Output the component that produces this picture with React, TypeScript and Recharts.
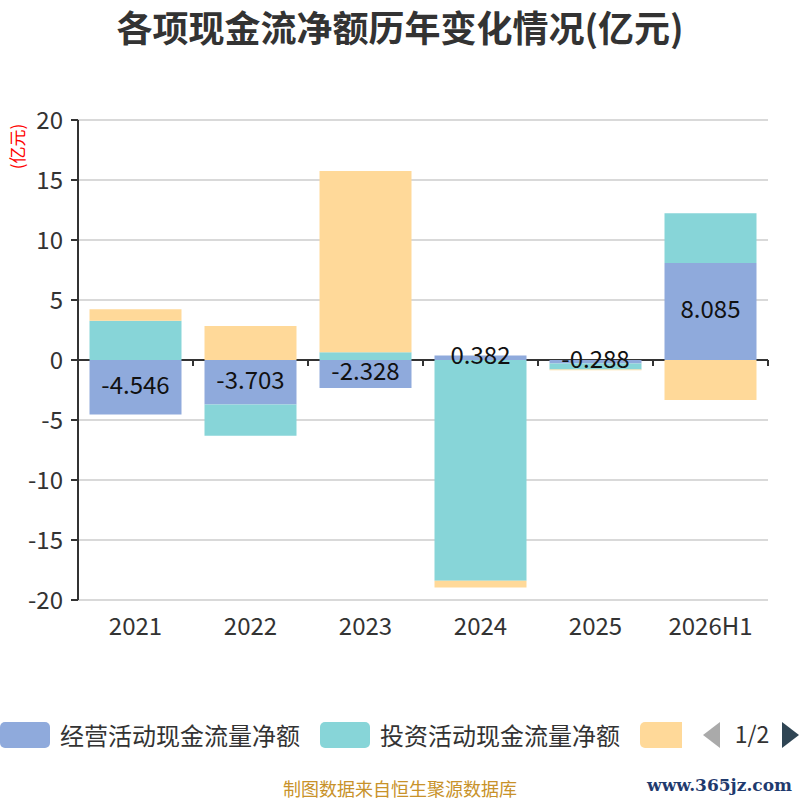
import React from 'react';
import { BarChart, Bar, XAxis, YAxis, CartesianGrid, LabelList } from 'recharts';

// categories and series values (亿元)
const years = ['2021', '2022', '2023', '2024', '2025', '2026H1'];
const operating = [-4.546, -3.703, -2.328, 0.382, -0.288, 8.085];
const investing = [3.28, -2.6, 0.64, -18.4, -0.5, 4.14];
const financing = [0.94, 2.83, 15.1, -0.55, -0.06, -3.33];
const yTicks = [-20, -15, -10, -5, 0, 5, 10, 15, 20];

const seriesNames = ['经营活动现金流量净额', '投资活动现金流量净额', '筹资活动现金流量净额'];
const seriesColors = ['#8FAADC', '#87D5D8', '#FFD999'];

const data = years.map((year, i) => ({
    year,
    op: operating[i],
    inv: investing[i],
    fin: financing[i],
}));

// layout
const CHART_W = 800;
const CHART_H = 660;
const PLOT_LEFT = 78;
const PLOT_RIGHT = 32;
const PLOT_TOP = 120;
const X_AXIS_H = 60;
const PLOT_W = CHART_W - PLOT_LEFT - PLOT_RIGHT;
const ZERO_Y = PLOT_TOP + (CHART_H - PLOT_TOP - X_AXIS_H) / 2;
const BAND_W = PLOT_W / years.length;
const ZERO_INDEX = yTicks.indexOf(0);

const font = "'Noto Sans CJK SC', 'Noto Sans', sans-serif";

const XTick = (props: any) => {
    const { x, y, payload } = props;
    const bx = x + BAND_W / 2;
    return (
        <g>
            <line x1={bx} y1={ZERO_Y} x2={bx} y2={ZERO_Y + 6} stroke="#333" strokeWidth={2} />
            <text x={x} y={y} dy={27} textAnchor="middle" fontSize={24} fill="#333">
                {payload.value}
            </text>
        </g>
    );
};

// grid line at 0 doubles as the x axis line (drawn under the bars)
const GridLine = (props: any) => {
    const { x1, y1, x2, y2, index } = props;
    const isZero = index === ZERO_INDEX;
    return (
        <line
            x1={x1}
            y1={y1}
            x2={x2}
            y2={y2}
            stroke={isZero ? '#333' : '#CCCCCC'}
            strokeWidth={isZero ? 2 : 1.5}
        />
    );
};

const LegendBar = () => (
    <div
        style={{
            position: 'absolute',
            top: 717,
            left: 0,
            width: 800,
            height: 36,
        }}
    >
        {seriesNames.map((name, i) => (
            <div
                key={name}
                style={{
                    position: 'absolute',
                    left: i * 320,
                    top: 0,
                    display: 'flex',
                    alignItems: 'center',
                    height: 36,
                    whiteSpace: 'nowrap',
                }}
            >
                <div
                    style={{
                        width: i === 2 ? 42 : 50,
                        height: 26,
                        borderRadius: i === 2 ? '5px 0 0 5px' : 5,
                        background: seriesColors[i],
                        marginRight: 10,
                    }}
                />
                {/* page 1 of the legend only shows the first two names */}
                {i < 2 && <span style={{ fontSize: 24, color: '#333', lineHeight: '36px' }}>{name}</span>}
            </div>
        ))}
        <svg width={800} height={36} style={{ position: 'absolute', left: 0, top: 0 }}>
            <polygon points="720,5 720,31 703,18" fill="#AAAAAA" />
            <text x={752} y={26} textAnchor="middle" fontSize={23} fill="#333" fontFamily={font}>
                1/2
            </text>
            <polygon points="782,5 782,31 799,18" fill="#2F4554" />
        </svg>
    </div>
);

export default function App() {
    return (
        <div
            style={{
                position: 'absolute',
                left: 0,
                top: 0,
                width: 800,
                height: 800,
                background: '#fff',
                fontFamily: font,
                overflow: 'hidden',
            }}
        >
            <div
                style={{
                    position: 'absolute',
                    top: 0,
                    left: 0,
                    width: 800,
                    textAlign: 'center',
                    fontSize: 36,
                    fontWeight: 'bold',
                    color: '#333',
                }}
            >
                各项现金流净额历年变化情况(亿元)
            </div>
            <div
                style={{
                    position: 'absolute',
                    left: -12,
                    top: 134,
                    width: 56,
                    textAlign: 'center',
                    fontSize: 17,
                    color: '#FF0000',
                    transform: 'rotate(-90deg)',
                }}
            >
                (亿元)
            </div>
            <div style={{ position: 'absolute', left: 0, top: 0 }}>
                <BarChart
                    width={CHART_W}
                    height={CHART_H}
                    data={data}
                    stackOffset="sign"
                    barCategoryGap="10%"
                    margin={{ top: PLOT_TOP, right: PLOT_RIGHT, bottom: 0, left: PLOT_LEFT - 60 }}
                >
                    <CartesianGrid vertical={false} horizontal={(p: any) => <GridLine {...p} />} />
                    <XAxis
                        dataKey="year"
                        height={X_AXIS_H}
                        axisLine={false}
                        tickLine={false}
                        interval={0}
                        tick={<XTick />}
                    />
                    <YAxis
                        width={60}
                        domain={[-20, 20]}
                        ticks={yTicks}
                        interval={0}
                        axisLine={{ stroke: '#333', strokeWidth: 2 }}
                        tickLine={{ stroke: '#333', strokeWidth: 2 }}
                        tickSize={7}
                        tickMargin={8}
                        tick={{ fontSize: 24, fill: '#333' }}
                    />
                    <Bar dataKey="op" stackId="cf" fill={seriesColors[0]} isAnimationActive={false}>
                        <LabelList dataKey="op" position="center" fontSize={24} fill="#111" dy={-2} />
                    </Bar>
                    <Bar dataKey="inv" stackId="cf" fill={seriesColors[1]} isAnimationActive={false} />
                    <Bar dataKey="fin" stackId="cf" fill={seriesColors[2]} isAnimationActive={false} />
                </BarChart>
            </div>
            <LegendBar />
            <div
                style={{
                    position: 'absolute',
                    top: 777,
                    left: 0,
                    width: 800,
                    textAlign: 'center',
                    fontSize: 18,
                    lineHeight: '22px',
                    color: '#C8922A',
                }}
            >
                制图数据来自恒生聚源数据库
            </div>
            <div
                style={{
                    position: 'absolute',
                    top: 774,
                    right: 8,
                    fontSize: 17,
                    lineHeight: '22px',
                    fontWeight: 'bold',
                    color: '#1F3A6E',
                    fontFamily: "'DejaVu Serif', serif",
                }}
            >
                www.365jz.com
            </div>
        </div>
    );
}
